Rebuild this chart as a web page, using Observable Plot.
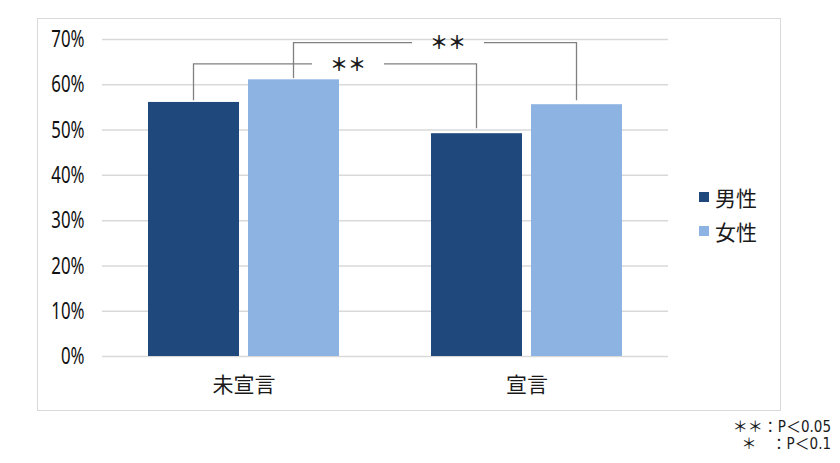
<!DOCTYPE html>
<html><head><meta charset="utf-8">
<script src="https://cdn.jsdelivr.net/npm/d3@7"></script>
<script src="https://cdn.jsdelivr.net/npm/@observablehq/plot@0.6"></script>
<style>
body{margin:0;background:#fff;}
#wrap{position:relative;width:840px;height:463px;overflow:hidden;color:#1a1a1a;}
#frame{position:absolute;left:37px;top:18px;width:742px;height:391px;border:1.5px solid #d9d9d9;}
#chart{position:absolute;left:0;top:0;}
#legend{position:absolute;left:699px;top:180px;font-family:"Noto Sans CJK JP",sans-serif;font-size:21px;line-height:34px;}
#legend .item{display:flex;align-items:center;white-space:nowrap;}
#legend .sw{width:10px;height:10px;margin-right:6px;}
#caption{position:absolute;right:9px;top:419px;font-size:15px;line-height:17px;text-align:right;font-family:"DejaVu Sans","Noto Sans CJK JP",sans-serif;font-stretch:condensed;}
</style></head>
<body>
<div id="wrap"><div id="frame"></div><div id="chart"></div><div id="legend"></div><div id="caption"></div></div>
<script>
const categories = ["未宣言", "宣言"];
const sexes = ["男性", "女性"];
const maleValues = [0.561, 0.492];
const femaleValues = [0.611, 0.556];
const sexColors = ["#1F497D", "#8DB3E2"];
const yTicks = [0, 0.1, 0.2, 0.3, 0.4, 0.5, 0.6, 0.7];
const bracketFrom = [["未宣言", "男性"], ["未宣言", "女性"]];
const bracketTo = [["宣言", "男性"], ["宣言", "女性"]];
const bracketTop = [0.645, 0.692];
const bracketFromBottom = [0.565, 0.614];
const bracketToBottom = [0.503, 0.565];
const bracketLabels = ["＊＊", "＊＊"];
const captionLines = ["＊＊：P＜0.05", "＊　：P＜0.1"];

const data = categories.flatMap((c, i) => [
  {cat: c, sex: sexes[0], value: maleValues[i]},
  {cat: c, sex: sexes[1], value: femaleValues[i]}
]);

const plot = Plot.plot({
  width: 840, height: 463,
  marginLeft: 101, marginRight: 172, marginTop: 39, marginBottom: 107,
  style: {fontFamily: '"Noto Sans CJK JP",sans-serif', background: "transparent", color: "#1a1a1a", overflow: "visible"},
  fx: {domain: categories, padding: 0, label: null},
  x: {domain: sexes, paddingInner: 0.089, paddingOuter: 0.448, axis: null},
  y: {domain: [0, 0.7], axis: null},
  color: {domain: sexes, range: sexColors},
  marks: [
    Plot.gridY(yTicks, {stroke: "#d9d9d9", strokeOpacity: 1, strokeWidth: 1.5}),
    Plot.axisY(yTicks, {tickFormat: d => Math.round(d * 100) + "%", tickSize: 0, tickPadding: 18, fontSize: 24, label: null, fontFamily: '"Noto Sans","Noto Sans CJK JP",sans-serif', fill: "#111"}),
    Plot.axisFx({anchor: "bottom", tickSize: 0, tickPadding: 21, fontSize: 21, label: null}),
    Plot.barY(data, {fx: "cat", x: "sex", y: "value", fill: "sex"})
  ]
});
document.getElementById("chart").appendChild(plot);

const svg = d3.select(plot);
// condensed look for the percentage tick labels (reference uses a narrow face)
svg.selectAll("g[aria-label='y-axis tick label'] text").each(function() {
  const w = this.getComputedTextLength();
  if (w > 0) d3.select(this).attr("lengthAdjust", "spacingAndGlyphs").attr("textLength", w * 0.7);
});

// significance brackets, positioned with the plot's own scales
const fxS = plot.scale("fx"), xS = plot.scale("x"), yS = plot.scale("y");
const cx = ([c, s]) => fxS.apply(c) + (xS.apply(s) - xS.range[0]) + xS.bandwidth / 2;
const g = svg.append("g");
bracketTop.forEach((t, i) => {
  const x1 = cx(bracketFrom[i]), x2 = cx(bracketTo[i]);
  const yt = yS.apply(t);
  const mid = (x1 + x2) / 2 + 13;
  const half = 36;
  g.append("path")
    .attr("d", `M${x1},${yS.apply(bracketFromBottom[i])}V${yt}H${mid - half}M${mid + half},${yt}H${x2}V${yS.apply(bracketToBottom[i])}`)
    .attr("fill", "none").attr("stroke", "#808080").attr("stroke-width", 1.3);
  g.append("text").attr("x", mid).attr("y", yt).attr("dy", "0.38em")
    .attr("text-anchor", "middle").attr("font-size", 18).attr("font-weight", 700)
    .attr("font-family", '"Noto Sans CJK JP",sans-serif').attr("fill", "#1a1a1a")
    .text(bracketLabels[i]);
});

const legend = document.getElementById("legend");
sexes.forEach((s, i) => {
  const item = document.createElement("div"); item.className = "item";
  const sw = document.createElement("span"); sw.className = "sw"; sw.style.background = sexColors[i];
  const tx = document.createElement("span"); tx.textContent = s;
  item.appendChild(sw); item.appendChild(tx); legend.appendChild(item);
});
document.getElementById("caption").innerHTML = captionLines.map(l => `<div>${l}</div>`).join("");
</script>
</body></html>
